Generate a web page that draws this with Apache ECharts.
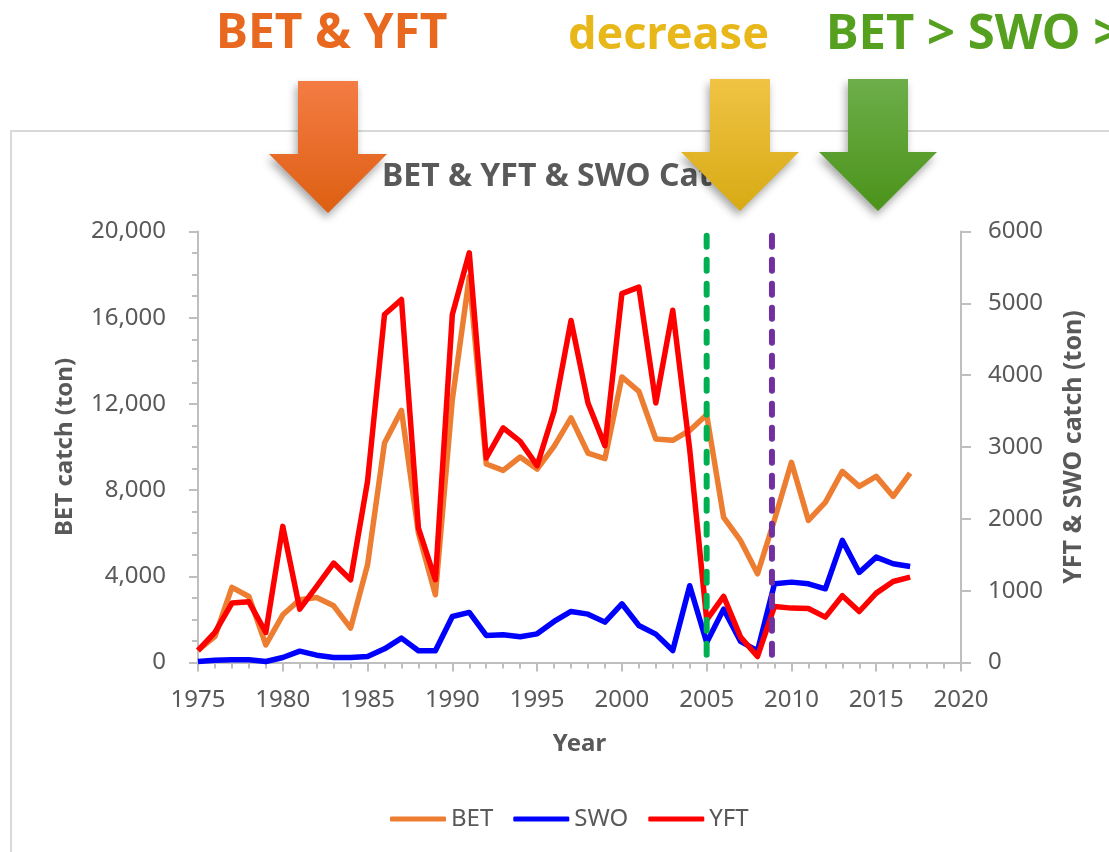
<!DOCTYPE html>
<html>
<head>
<meta charset="utf-8">
<style>
html,body{margin:0;padding:0;background:#fff;overflow:hidden}
#chart{width:1109px;height:852px}
</style>
<script src="https://cdn.jsdelivr.net/npm/echarts@6/dist/echarts.min.js"></script>
</head>
<body>
<div id="chart"></div>
<script>
var years=[1975,1976,1977,1978,1979,1980,1981,1982,1983,1984,1985,1986,1987,1988,1989,1990,1991,1992,1993,1994,1995,1996,1997,1998,1999,2000,2001,2002,2003,2004,2005,2006,2007,2008,2009,2010,2011,2012,2013,2014,2015,2016,2017];
var bet=[557,1207,3483,3065,820,2214,2910,3020,2630,1594,4535,10186,11700,6006,3142,12200,17900,9210,8916,9535,8978,10030,11350,9720,9458,13250,12585,10370,10310,10770,11500,6730,5650,4118,6625,9288,6594,7430,8870,8173,8638,7709,8793];
var swo=[14,32,37,37,14,70,158,102,70,70,84,190,339,163,163,641,697,376,385,358,399,571,711,673,562,817,515,395,167,1068,279,743,293,163,1096,1119,1096,1026,1700,1254,1467,1375,1337];
var yft=[167,418,827,845,418,1895,743,1059,1384,1152,2522,4844,5053,1871,1152,4844,5703,2847,3265,3079,2740,3497,4760,3613,3019,5136,5225,3613,4904,2963,594,920,353,84,780,757,752,632,929,710,966,1128,1189];
var greenLineX=2005;
var purpleLineX=2008.85;
var lineTop=19800;

function pairs(v){
	var out=[];
	for(var i=0;i<years.length;i++){
		out.push([years[i],v[i]]);
	}
	return out;
}
function vline(name,x,color){
	return {
		name:name,type:'line',xAxisIndex:0,yAxisIndex:0,
		data:[[x,lineTop],[x,-50]],
		showSymbol:false,silent:true,z:5,clip:false,
		lineStyle:{color:color,width:6,type:[11,13],cap:'round'}
	};
}
function arrow(cx,top,c1,c2){
	// block arrow pointing down, drawn on top of the chart
	return {
		type:'polygon',z:100,
		shape:{points:[[cx-30,top],[cx+30,top],[cx+30,top+73],[cx+59,top+73],[cx,top+132],[cx-59,top+73],[cx-30,top+73]]},
		style:{
			fill:{type:'linear',x:0,y:0,x2:0,y2:1,colorStops:[{offset:0,color:c1},{offset:1,color:c2}]},
			shadowBlur:8,shadowOffsetX:-2,shadowOffsetY:5,shadowColor:'rgba(0,0,0,0.35)'
		}
	};
}
function head(text,x,y,size,color){
	return {type:'text',z:100,left:x,top:y,style:{text:text,fill:color,font:'bold '+size+'px "Noto Sans"'}};
}

var txt='#595959',axisc='#bfbfbf';
var myChart=echarts.init(document.getElementById('chart'),null,{renderer:'canvas'});
var option={
	animation:false,
	backgroundColor:'#fff',
	textStyle:{fontFamily:'"Noto Sans"'},
	title:{text:'BET & YFT & SWO Catch',left:377,top:156,textStyle:{color:txt,fontSize:32,fontWeight:'bold',fontFamily:'"Noto Sans"'}},
	legend:{
		data:['BET','SWO','YFT'],left:385,top:802,itemWidth:56,itemHeight:5,itemGap:20,icon:'roundRect',
		textStyle:{color:txt,fontSize:24,fontFamily:'"Noto Sans"'}
	},
	grid:{left:198,right:148,top:231.5,bottom:189.5,containLabel:false},
	xAxis:{
		type:'value',min:1975,max:2020,interval:5,
		name:'Year',nameLocation:'middle',nameGap:70,
		nameTextStyle:{color:txt,fontSize:24,fontWeight:'bold'},
		axisLine:{show:true,lineStyle:{color:axisc,width:2},onZero:false},
		axisTick:{show:true,length:9,lineStyle:{color:axisc,width:2}},
		minorTick:{show:true,splitNumber:5,length:6,lineStyle:{color:axisc,width:2}},
		axisLabel:{color:txt,fontSize:24,margin:26,formatter:function(v){return String(v);}},
		splitLine:{show:false},minorSplitLine:{show:false}
	},
	yAxis:[{
		type:'value',min:0,max:20000,interval:4000,position:'left',
		name:'BET catch (ton)',nameLocation:'middle',nameGap:121,
		nameTextStyle:{color:txt,fontSize:24,fontWeight:'bold'},
		axisLine:{show:true,lineStyle:{color:axisc,width:2}},
		axisTick:{show:true,length:9,lineStyle:{color:axisc,width:2}},
		minorTick:{show:true,splitNumber:4,length:6,lineStyle:{color:axisc,width:2}},
		axisLabel:{color:txt,fontSize:24,margin:32,padding:[4,0,0,0],formatter:function(v){return v.toLocaleString('en-US');}},
		splitLine:{show:false}
	},{
		type:'value',min:0,max:6000,interval:1000,position:'right',
		name:'YFT & SWO catch (ton)',nameLocation:'middle',nameGap:100,
		nameTextStyle:{color:txt,fontSize:25,fontWeight:'bold'},
		axisLine:{show:true,lineStyle:{color:axisc,width:2}},
		axisTick:{show:true,length:10,lineStyle:{color:axisc,width:2}},
		axisLabel:{color:txt,fontSize:24,margin:27,padding:[4,0,0,0],formatter:function(v){return String(v);}},
		splitLine:{show:false}
	}],
	series:[
		{name:'BET',type:'line',yAxisIndex:0,data:pairs(bet),showSymbol:false,z:2,lineStyle:{color:'#ed7d31',width:5.5,join:'round'},itemStyle:{color:'#ed7d31'}},
		{name:'SWO',type:'line',yAxisIndex:1,data:pairs(swo),showSymbol:false,z:3,lineStyle:{color:'#0000ff',width:5.5,join:'round'},itemStyle:{color:'#0000ff'}},
		{name:'YFT',type:'line',yAxisIndex:1,data:pairs(yft),showSymbol:false,z:4,lineStyle:{color:'#ff0000',width:5.5,join:'round'},itemStyle:{color:'#ff0000'}},
		vline('Line A',greenLineX,'#00b050'),
		vline('Line B',purpleLineX,'#7030a0')
	],
	graphic:[
		{type:'polyline',z:1,shape:{points:[[11,852],[11,131],[1109,131]]},style:{stroke:'#d9d9d9',lineWidth:2,fill:null}},
		arrow(328,81,'#f47c44','#dd5f12'),
		arrow(740,79,'#f0c344','#d7aa14'),
		arrow(878,79,'#6dae4a','#4b931a'),
		head('BET & YFT',216,10,48,'#e8681f'),
		head('decrease',568,14,45,'#e8b81a'),
		head('BET > SWO >',826,11,49,'#55a01f')
	]
};
myChart.setOption(option);
window.onresize=function(){myChart.resize()};
</script>
</body>
</html>
